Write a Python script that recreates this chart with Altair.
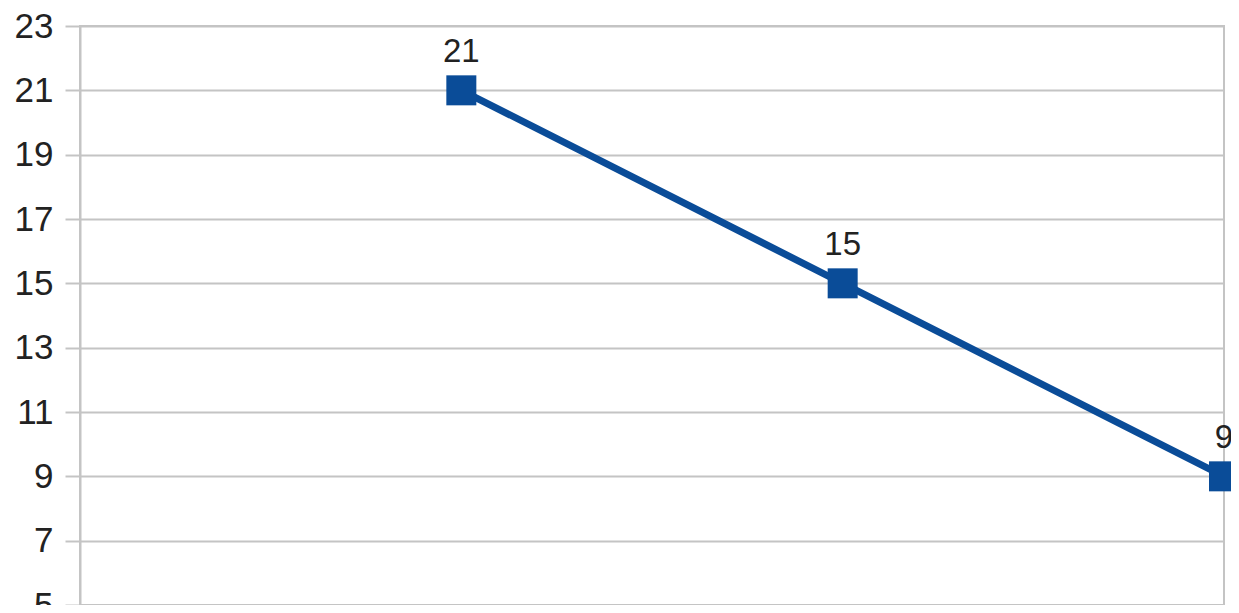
import altair as alt
import pandas as pd

positions = [1, 2, 3]
values = [21, 15, 9]
y_ticks = [5, 7, 9, 11, 13, 15, 17, 19, 21, 23]

df = pd.DataFrame({"pos": positions, "value": values})

grid_color = "#c4c4c4"
line_color = "#0a4c98"

x = alt.X("pos:Q", scale=alt.Scale(domain=[0, 3], nice=False, zero=False),
          axis=alt.Axis(title=None, labels=False, grid=False, domain=False,
                        values=[0, 1, 2, 3], tickSize=8, tickColor=grid_color, tickWidth=2))
y = alt.Y("value:Q", scale=alt.Scale(domain=[5, 23], nice=False, zero=False),
          axis=alt.Axis(title=None, values=y_ticks, grid=True, gridColor=grid_color, gridWidth=2,
                        domain=True, domainColor=grid_color, domainWidth=2,
                        tickColor=grid_color, tickWidth=2, tickSize=15,
                        labelFontSize=35, labelFont="Liberation Sans", labelColor="#222222",
                        labelPadding=12))

base = alt.Chart(df)
line = base.mark_line(color=line_color, strokeWidth=7).encode(x=x, y=y)
pts = base.mark_point(shape="square", filled=True, size=900, color=line_color, opacity=1).encode(x=x, y=y)
txt = base.mark_text(fontSize=33, font="Liberation Sans", color="#222222", dy=-28,
                     baseline="alphabetic").encode(x=x, y=y, text="value:Q")

chart = (line + pts + txt).properties(
    width=1144, height=579,
    autosize=alt.AutoSizeParams(type="none"),
    padding={"left": 72, "top": 18, "right": 7, "bottom": 0},
).configure_view(stroke=grid_color, strokeWidth=2)

chart.save("out.html", embed_options={"renderer": "svg", "actions": False})
